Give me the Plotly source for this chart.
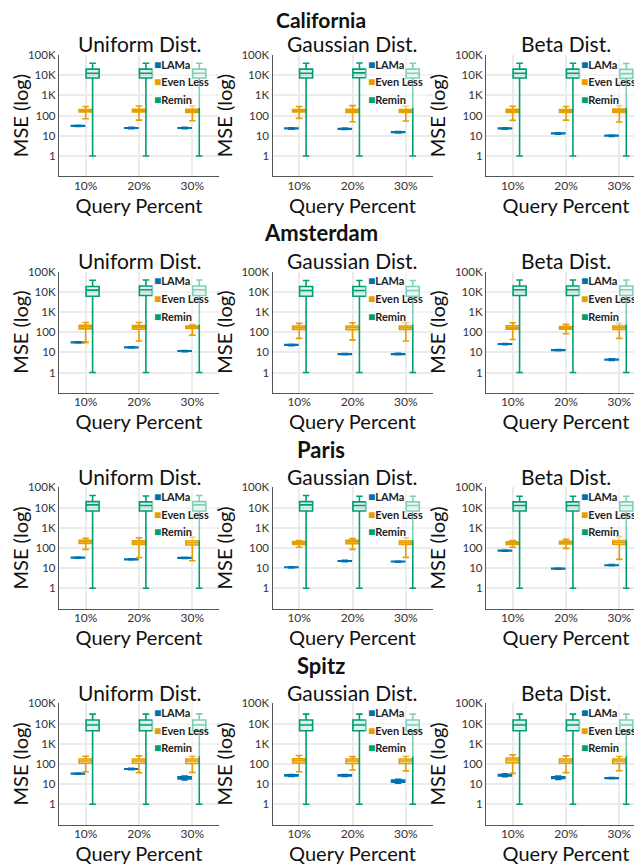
import plotly.graph_objects as go

# ---------------- data ----------------
CATEGORIES = ["10%", "20%", "30%"]
CITIES = ["California", "Amsterdam", "Paris", "Spitz"]
DISTRIBUTIONS = ["Uniform", "Gaussian", "Beta"]
METHODS = ["LAMa", "Even Less", "Remin"]
Y_TICK_VALUES = [1, 10, 100, 1000, 10000, 100000]
Y_TICK_LABELS = ["1", "10", "100", "1K", "10K", "100K"]

# each entry: (lower whisker, q1, median, q3, upper whisker) for 10%, 20%, 30%
california_lama = {
    "Uniform": [(29, 30, 31, 32, 33), (22.5, 23.5, 24, 25, 26), (22.5, 23.5, 24, 25, 26)],
    "Gaussian": [(21.5, 22.5, 23, 24, 25), (20.5, 21.5, 22, 23, 24), (14, 14.6, 15, 15.6, 16.2)],
    "Beta": [(21.5, 22.5, 23, 24, 25), (12, 12.6, 13, 13.5, 14), (9.3, 9.7, 10, 10.5, 11)],
}
california_evenless = {
    "Uniform": [(70, 150, 175, 200, 280), (60, 150, 175, 205, 300), (56, 145, 175, 205, 300)],
    "Gaussian": [(73, 150, 175, 200, 280), (50, 145, 175, 205, 310), (54, 145, 175, 200, 290)],
    "Beta": [(58, 145, 175, 205, 290), (60, 145, 170, 200, 280), (48, 145, 175, 210, 310)],
}
california_remin = {
    "Uniform": [(1, 7300, 12500, 20000, 39000), (1, 7300, 12500, 20000, 39000), (1, 7300, 12500, 20000, 39000)],
    "Gaussian": [(1, 7300, 12500, 20000, 39000), (1, 7500, 13000, 20000, 40000), (1, 7300, 12500, 20000, 39000)],
    "Beta": [(1, 7300, 12500, 20000, 39000), (1, 7300, 12500, 20000, 39000), (1, 7000, 12000, 19500, 38000)],
}

amsterdam_lama = {
    "Uniform": [(29, 30, 31, 32, 33), (16.5, 17, 17.5, 18, 18.8), (10.8, 11.2, 11.5, 11.9, 12.3)],
    "Gaussian": [(21.5, 22.5, 23, 24, 25), (7.6, 7.9, 8.1, 8.4, 8.7), (7.5, 7.8, 8.1, 8.5, 8.9)],
    "Beta": [(24, 25, 25.5, 26.5, 27.5), (12, 12.4, 12.8, 13.2, 13.7), (4.0, 4.15, 4.3, 4.5, 4.7)],
}
amsterdam_evenless = {
    "Uniform": [(31, 145, 178, 215, 300), (36, 140, 175, 210, 300), (71, 150, 178, 200, 240)],
    "Gaussian": [(49, 135, 165, 200, 270), (40, 130, 165, 200, 290), (36, 135, 165, 200, 290)],
    "Beta": [(43, 140, 170, 205, 290), (83, 140, 165, 190, 240), (49, 135, 165, 200, 270)],
}
amsterdam_remin = {
    "Uniform": [(1, 6000, 12000, 18000, 37000), (1, 6500, 12500, 19000, 38000), (1, 6500, 12500, 19000, 38000)],
    "Gaussian": [(1, 6000, 11500, 18000, 36000), (1, 6000, 11500, 18000, 36000), (1, 6000, 11500, 18000, 36000)],
    "Beta": [(1, 6500, 12500, 19000, 38000), (1, 6500, 12500, 19000, 38000), (1, 6500, 12500, 19000, 38000)],
}

paris_lama = {
    "Uniform": [(31, 32, 33, 34, 35), (25.5, 26.3, 27, 27.8, 28.6), (30, 31, 32, 33, 34)],
    "Gaussian": [(10.3, 10.7, 11, 11.3, 11.7), (21, 22, 22.5, 23.2, 24), (19.8, 20.5, 21, 21.6, 22.3)],
    "Beta": [(68, 71, 73, 75, 78), (8.8, 9.1, 9.4, 9.7, 10), (13, 13.4, 13.8, 14.3, 14.8)],
}
paris_evenless = {
    "Uniform": [(85, 165, 200, 240, 300), (33, 150, 185, 225, 320), (23, 140, 180, 225, 335)],
    "Gaussian": [(107, 150, 175, 205, 230), (85, 160, 195, 235, 290), (34, 150, 185, 225, 320)],
    "Beta": [(107, 150, 170, 200, 230), (95, 155, 180, 210, 265), (27, 150, 190, 235, 360)],
}
paris_remin = {
    "Uniform": [(1, 6700, 13500, 19500, 39000), (1, 6700, 12500, 19000, 37000), (1, 6700, 13500, 19500, 39000)],
    "Gaussian": [(1, 6700, 13500, 19500, 39000), (1, 6700, 12500, 19000, 36000), (1, 6700, 12500, 19000, 36000)],
    "Beta": [(1, 6700, 12500, 19000, 36000), (1, 6700, 12500, 19000, 36000), (1, 6700, 12500, 19000, 36000)],
}

spitz_lama = {
    "Uniform": [(31, 32, 33, 34, 35), (52, 54, 56, 58, 60), (16, 18, 21, 23, 25)],
    "Gaussian": [(24, 25.5, 27, 28.5, 30), (24, 25.5, 27, 28.5, 30), (11, 12.5, 14, 16, 17.5)],
    "Beta": [(23, 25, 28, 30, 32), (17, 19, 21, 23, 25), (18.5, 19, 19.5, 20.3, 21)],
}
spitz_evenless = {
    "Uniform": [(41, 107, 140, 176, 240), (37, 107, 140, 176, 250), (38, 105, 140, 175, 240)],
    "Gaussian": [(41, 110, 145, 180, 260), (50, 105, 140, 175, 230), (45, 105, 140, 175, 240)],
    "Beta": [(34, 115, 157, 195, 280), (37, 107, 140, 176, 250), (46, 105, 140, 175, 240)],
}
spitz_remin = {
    "Uniform": [(1, 4400, 8500, 15000, 29000), (1, 4400, 8500, 15000, 29000), (1, 4400, 8500, 15000, 30000)],
    "Gaussian": [(1, 4400, 8500, 15000, 29000), (1, 4400, 8500, 15000, 29000), (1, 4400, 8500, 15000, 29000)],
    "Beta": [(1, 4400, 8500, 15000, 29000), (1, 4400, 8500, 15000, 29000), (1, 4400, 8500, 15000, 29000)],
}

CITY_DATA = {
    "California": [california_lama, california_evenless, california_remin],
    "Amsterdam": [amsterdam_lama, amsterdam_evenless, amsterdam_remin],
    "Paris": [paris_lama, paris_evenless, paris_remin],
    "Spitz": [spitz_lama, spitz_evenless, spitz_remin],
}

# ---------------- style / layout (pixel positions on the page) ----------------
COLORS = ["#0072B2", "#E69F00", "#009E73"]
FILLS = ["rgba(0,114,178,0.25)", "rgba(230,159,0,0.25)", "rgba(0,158,115,0.12)"]
METHOD_OFFSET = [-0.145, 0.0, 0.13]
BOX_WIDTH = 0.245
FONT = "Lato"
W, H = 642, 865
PAGE_OFFSET = 8          # the page body margin shifts the figure by this many px
ROW_TOP_PX = [55, 271.5, 487.3, 703.3]
PLOT_H_PX = 121.2
COL_PX = [(59, 219), (272.5, 432.5), (486, 646)]
ROW_TITLE_Y = [20, 233, 449, 665]
ROW_TITLE_SIZE = [21, 22, 22, 22]
SUB_TITLE_Y = [44, 260.5, 476.5, 692.5]
PX_PER_CAT = 160 / 3.0


def px_x(p):
    return (p - PAGE_OFFSET) / W


def px_y(p):
    return 1 - (p - PAGE_OFFSET) / H


fig = go.Figure()
layout = dict(
    width=W, height=H, margin=dict(l=0, r=0, t=0, b=0, autoexpand=False),
    paper_bgcolor="white", plot_bgcolor="white",
    showlegend=False, font=dict(family=FONT, color="#222"),
    annotations=[], shapes=[],
)

for r, city in enumerate(CITIES):
    layout["annotations"].append(dict(
        text="<b>%s</b>" % city, x=px_x(321), y=px_y(ROW_TITLE_Y[r]), xref="paper", yref="paper",
        xanchor="center", yanchor="middle", showarrow=False, borderpad=0,
        font=dict(size=ROW_TITLE_SIZE[r], family=FONT, color="#111")))
    for c, dist in enumerate(DISTRIBUTIONS):
        k = r * 3 + c + 1
        xa = "xaxis" if k == 1 else "xaxis%d" % k
        ya = "yaxis" if k == 1 else "yaxis%d" % k
        xr = "x" if k == 1 else "x%d" % k
        yr = "y" if k == 1 else "y%d" % k
        x0p, x1p = COL_PX[c]
        top = ROW_TOP_PX[r]
        bot = top + PLOT_H_PX
        d1 = min(px_x(x1p), 1.0)
        xmax = -0.5 + (d1 * W + PAGE_OFFSET - x0p) / PX_PER_CAT
        layout[xa] = dict(
            domain=[px_x(x0p), d1], anchor=yr, range=[-0.5, xmax], automargin=False,
            tickmode="array", tickvals=list(range(len(CATEGORIES))), ticktext=CATEGORIES,
            showgrid=True, gridcolor="#ebebeb", gridwidth=1.5,
            showline=True, linecolor="#555", linewidth=1.3, zeroline=False,
            ticks="", ticklabelstandoff=-2, tickfont=dict(size=12, family=FONT, color="#333"),
            title=dict(text="Query Percent", font=dict(size=20, family=FONT, color="#111"), standoff=0),
        )
        layout[ya] = dict(
            domain=[px_y(bot), px_y(top)], anchor=xr, type="log", range=[-1, 5], automargin=False,
            tickmode="array", tickvals=Y_TICK_VALUES, ticktext=Y_TICK_LABELS,
            showgrid=True, gridcolor="#ebebeb", gridwidth=1.5,
            showline=True, linecolor="#555", linewidth=1.3, zeroline=False,
            ticks="", tickfont=dict(size=11.5, family=FONT, color="#333"),
            title=dict(text="MSE (log)", font=dict(size=20, family=FONT, color="#111"), standoff=3),
        )
        # subplot title
        layout["annotations"].append(dict(
            text="%s Dist." % dist, x=px_x(x0p + 80), y=px_y(SUB_TITLE_Y[r]),
            xref="paper", yref="paper", xanchor="center", yanchor="middle", showarrow=False,
            borderpad=0, font=dict(size=21, family=FONT, color="#111")))
        for m, method in enumerate(METHODS):
            stats = CITY_DATA[city][m][dist]
            xs = [i + METHOD_OFFSET[m] for i in range(len(CATEGORIES))]
            fig.add_trace(go.Box(
                name=method, x=xs,
                lowerfence=[s[0] for s in stats], q1=[s[1] for s in stats],
                median=[s[2] for s in stats], q3=[s[3] for s in stats],
                upperfence=[s[4] for s in stats],
                width=BOX_WIDTH, whiskerwidth=0.5, boxpoints=False,
                line=dict(color=COLORS[m], width=1.6), fillcolor=FILLS[m],
                xaxis=xr, yaxis=yr, showlegend=False, hoverinfo="skip",
            ))
        # legend (semi-transparent panel with coloured squares)
        lx = -0.5 + (153 - 59) / PX_PER_CAT
        layout["shapes"].append(dict(
            type="rect", xref=xr, yref="%s domain" % yr,
            x0=-0.5 + (152 - 59) / PX_PER_CAT, x1=-0.5 + (216 - 59) / PX_PER_CAT,
            y0=1 - 53 / PLOT_H_PX, y1=1.0, fillcolor="rgba(255,255,255,0.5)",
            line=dict(width=0), layer="above"))
        for m, method in enumerate(METHODS):
            ly = 1 - (9 + 17.8 * m) / PLOT_H_PX
            layout["annotations"].append(dict(
                text="<span style='color:%s;font-size:12px'>■</span><b>%s</b>" % (COLORS[m], method),
                x=lx, y=ly, xref=xr, yref="%s domain" % yr, xanchor="left", yanchor="middle",
                showarrow=False, borderpad=0, font=dict(size=11, family=FONT, color="#222")))

fig.update_layout(**layout)
fig.write_html("out.html")
